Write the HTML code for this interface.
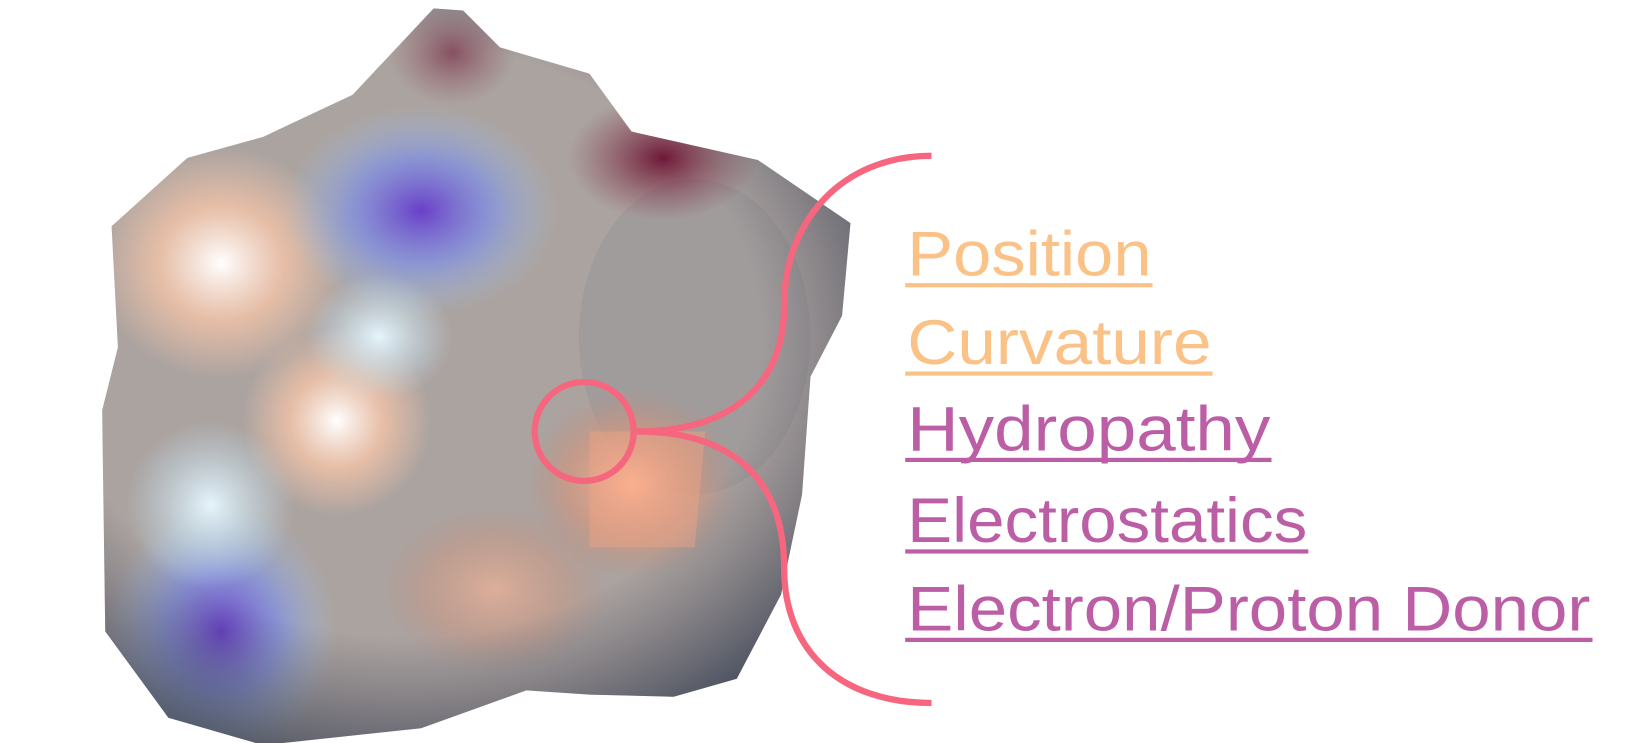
<!DOCTYPE html>
<html><head><meta charset="utf-8"><style>
html,body{margin:0;padding:0;background:#fff;overflow:hidden}
svg{display:block}
text{font-family:"Liberation Sans","DejaVu Sans",sans-serif;font-size:60px}
</style></head><body>
<svg width="1642" height="743" viewBox="0 0 1560 706" preserveAspectRatio="none">
<defs>
<clipPath id="blob"><path d="M412,8 L440,10 L475,45 L560,70 L600,125 L720,152 L808,212 L800,300 L770,358 L762,470 L742,565 L700,645 L640,662 L560,660 L500,656 L400,692 L250,708 L160,682 L100,600 L97,390 L112,330 L106,215 L178,150 L250,130 L335,90 Z"/></clipPath>
<radialGradient id="gw1" cx="0.5" cy="0.5" r="0.5"><stop offset="0" stop-color="#fff" stop-opacity="1"/><stop offset="0.5" stop-color="#f4c4a8" stop-opacity="0.8"/><stop offset="1" stop-color="#f4c4a8" stop-opacity="0"/></radialGradient>
<radialGradient id="gb" cx="0.5" cy="0.5" r="0.5"><stop offset="0" stop-color="#6a3fc8" stop-opacity="1"/><stop offset="0.5" stop-color="#7d8ee8" stop-opacity="0.7"/><stop offset="1" stop-color="#9fc8ef" stop-opacity="0"/></radialGradient>
<radialGradient id="gl" cx="0.5" cy="0.5" r="0.5"><stop offset="0" stop-color="#e6f4fb" stop-opacity="1"/><stop offset="1" stop-color="#bfe2f4" stop-opacity="0"/></radialGradient>
<radialGradient id="gp" cx="0.5" cy="0.5" r="0.5"><stop offset="0" stop-color="#ffb796" stop-opacity="1"/><stop offset="0.6" stop-color="#d8957a" stop-opacity="0.6"/><stop offset="1" stop-color="#c08a78" stop-opacity="0"/></radialGradient>
<radialGradient id="gm" cx="0.5" cy="0.5" r="0.5"><stop offset="0" stop-color="#6e1838" stop-opacity="1"/><stop offset="1" stop-color="#8a4050" stop-opacity="0"/></radialGradient>
<radialGradient id="edge" cx="0.45" cy="0.45" r="0.6"><stop offset="0.65" stop-color="#445" stop-opacity="0"/><stop offset="1" stop-color="#2e3a4e" stop-opacity="0.85"/></radialGradient>
</defs>
<g clip-path="url(#blob)">
<rect x="0" y="0" width="860" height="720" fill="#aba3a0"/>
<ellipse cx="660" cy="320" rx="110" ry="150" fill="#8e8e94" opacity="0.35"/>
<ellipse cx="210" cy="250" rx="120" ry="110" fill="url(#gw1)"/>
<ellipse cx="320" cy="400" rx="90" ry="90" fill="url(#gw1)"/>
<ellipse cx="400" cy="200" rx="130" ry="100" fill="url(#gb)"/>
<ellipse cx="360" cy="320" rx="70" ry="60" fill="url(#gl)"/>
<ellipse cx="210" cy="600" rx="110" ry="120" fill="url(#gb)"/>
<ellipse cx="200" cy="480" rx="80" ry="80" fill="url(#gl)"/>
<ellipse cx="600" cy="460" rx="100" ry="90" fill="url(#gp)"/>
<ellipse cx="470" cy="560" rx="110" ry="80" fill="url(#gp)" opacity="0.6"/>
<ellipse cx="630" cy="150" rx="90" ry="60" fill="url(#gm)"/>
<ellipse cx="430" cy="50" rx="60" ry="50" fill="url(#gm)" opacity="0.6"/>
<rect x="0" y="0" width="860" height="720" fill="url(#edge)"/>
<path d="M560,410 L670,410 L660,520 L560,520 Z" fill="#f6a684" opacity="0.4"/>
</g>
<g fill="none" stroke="#f7667f" stroke-width="6">
<circle cx="555" cy="410" r="47"/>
<path d="M885,148 C800,148 745,210 745,290 C745,370 690,410 605,410"/>
<path d="M605,410 C690,410 745,450 745,540 C745,620 800,668 885,668"/>
</g>
<g>
<text x="862" y="262" fill="#fbc288" textLength="232" lengthAdjust="spacingAndGlyphs">Position</text>
<rect x="860" y="269" width="235" height="4" fill="#fbc288"/>
<text x="862" y="346" fill="#fbc288" textLength="289" lengthAdjust="spacingAndGlyphs">Curvature</text>
<rect x="860" y="353" width="292" height="4" fill="#fbc288"/>
<text x="862" y="428" fill="#bb5ea6" textLength="345" lengthAdjust="spacingAndGlyphs">Hydropathy</text>
<rect x="860" y="435" width="348" height="4" fill="#bb5ea6"/>
<text x="862" y="515" fill="#bb5ea6" textLength="380" lengthAdjust="spacingAndGlyphs">Electrostatics</text>
<rect x="860" y="522" width="383" height="4" fill="#bb5ea6"/>
<text x="862" y="599" fill="#bb5ea6" textLength="649" lengthAdjust="spacingAndGlyphs">Electron/Proton Donor</text>
<rect x="860" y="606" width="653" height="4" fill="#bb5ea6"/>
</g>
</svg>
</body></html>
